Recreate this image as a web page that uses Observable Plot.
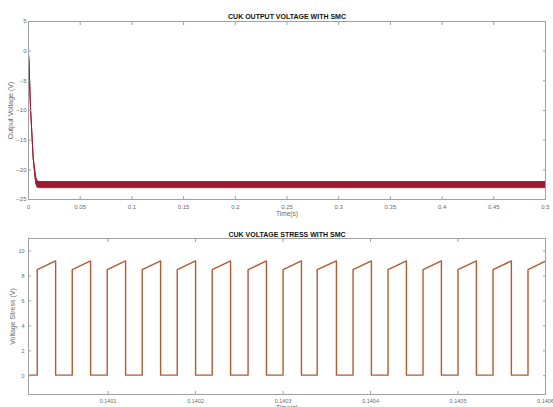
<!DOCTYPE html>
<html><head><meta charset="utf-8">
<script src="https://cdn.jsdelivr.net/npm/d3@7"></script>
<script src="https://cdn.jsdelivr.net/npm/@observablehq/plot@0.6"></script>
<style>
body{margin:0;background:#fff;}
#chart{width:553px;height:407px;overflow:hidden;background:#fff;}
#chart svg{display:block;}
</style></head><body><div id="chart"></div>
<script>
// ---- Top panel: CUK output voltage (envelope of the switching ripple) ----
const outTitle = "CUK OUTPUT VOLTAGE WITH SMC";
const outYLabel = "Output Voltage (V)";
const outXLabel = "Time(s)";
const outTime  = [0, 0.0004, 0.0019, 0.0045, 0.0062, 0.0072, 0.0085, 0.011, 0.05, 0.1, 0.2, 0.3, 0.4, 0.5];
const outUpper = [-0.5, -1.5, -9.4, -17.8, -20.2, -21.3, -21.9, -22.0, -22.0, -22.0, -22.0, -22.0, -22.0, -22.0];
const outLower = [-0.5, -1.5, -9.4, -18.0, -21.0, -22.4, -22.95, -23.0, -23.0, -23.0, -23.0, -23.0, -23.0, -23.0];
const outXTicks = [0, 0.05, 0.1, 0.15, 0.2, 0.25, 0.3, 0.35, 0.4, 0.45, 0.5];
const outYTicks = [5, 0, -5, -10, -15, -20, -25];

// ---- Bottom panel: CUK voltage stress ----
const vsTitle = "CUK VOLTAGE STRESS WITH SMC";
const vsYLabel = "Voltage Stress (V)";
const vsXLabel = "Time(s)";
const vsStart = 0.140009;
const vsEnd = 0.1406;
const vsRise = [0.140019, 0.140059, 0.140099, 0.140139, 0.140179, 0.140219, 0.140260, 0.140300,
                0.140339, 0.140380, 0.140420, 0.140460, 0.140500, 0.140540, 0.140580];
const vsFall = [0.140040, 0.140080, 0.140120, 0.140160, 0.140200, 0.140240, 0.140281,
                0.140321, 0.140361, 0.140401, 0.140441, 0.140481, 0.140521, 0.140561];
const vsLow = 0.05;
const vsHighStart = 8.5;
const vsHighEnd = 9.2;
const vsEndValue = 9.19;
const vsXTicks = [0.1401, 0.1402, 0.1403, 0.1404, 0.1405, 0.1406];
const vsYTicks = [0, 2, 4, 6, 8, 10];

// build tables
const outData = outTime.map((t, i) => ({t, upper: outUpper[i], lower: outLower[i]}));
const vsData = [{t: vsStart, v: vsLow}];
vsRise.forEach((r, i) => {
  vsData.push({t: r, v: vsLow}, {t: r, v: vsHighStart});
  if (i < vsFall.length) vsData.push({t: vsFall[i], v: vsHighEnd}, {t: vsFall[i], v: vsLow});
});
vsData.push({t: vsEnd, v: vsEndValue});

const FONT = "Liberation Sans, Arial, Helvetica, sans-serif";
const GRAY = "#6a6a6a";
const FRAME = "#a0a0a0";

function inwardAxes(xTicks, yTicks, xFmt, fs, yPad) {
  return [
    Plot.axisX({anchor: "bottom", ticks: xTicks, tickSize: -3, tickPadding: 8, tickFormat: xFmt, fontSize: fs, fill: GRAY, stroke: FRAME, label: null}),
    Plot.axisX({anchor: "top", ticks: xTicks, tickSize: -3, text: null, stroke: FRAME, label: null}),
    Plot.axisY({anchor: "left", ticks: yTicks, tickSize: -3, tickPadding: yPad, fontSize: fs, fill: GRAY, stroke: FRAME, label: null}),
    Plot.axisY({anchor: "right", ticks: yTicks, tickSize: -3, text: null, stroke: FRAME, label: null})
  ];
}

const topPanel = Plot.plot({
  width: 553, height: 222,
  marginTop: 21, marginBottom: 23, marginLeft: 28, marginRight: 8,
  style: {fontFamily: FONT, background: "#fff", overflow: "visible"},
  x: {domain: [0, 0.5]},
  y: {domain: [-25, 5]},
  marks: [
    Plot.areaY(outData, {x: "t", y1: "lower", y2: "upper", fill: "#a31631"}),
    Plot.lineY(outData, {x: "t", y: "upper", stroke: "#a31631", strokeWidth: 1}),
    Plot.lineY(outData, {x: "t", y: "lower", stroke: "#a31631", strokeWidth: 1}),
    Plot.frame({stroke: FRAME}),
    ...inwardAxes(outXTicks, outYTicks, d => d3.format("~g")(d), 6, 5),
    Plot.text([outTitle], {frameAnchor: "top", dy: -7, fontWeight: "bold", fontSize: 7, fill: "#111"}),
    Plot.text([outXLabel], {frameAnchor: "bottom", dy: 16, fontSize: 6.5, fill: GRAY}),
    Plot.text([outYLabel], {frameAnchor: "left", dx: -18, rotate: -90, textAnchor: "middle", fontSize: 7, fill: GRAY})
  ]
});

const bottomPanel = Plot.plot({
  width: 553, height: 185,
  marginTop: 16, marginBottom: 13, marginLeft: 28, marginRight: 8,
  style: {fontFamily: FONT, background: "#fff", overflow: "visible"},
  x: {domain: [vsStart, vsEnd]},
  y: {domain: [-1.5, 11]},
  marks: [
    Plot.line(vsData, {x: "t", y: "v", stroke: "#b45a33", strokeWidth: 1.4}),
    Plot.frame({stroke: FRAME}),
    ...inwardAxes(vsXTicks, vsYTicks, d => d3.format(".4f")(d), 5.5, 7),
    Plot.text([vsTitle], {frameAnchor: "top", dy: -6, fontWeight: "bold", fontSize: 7, fill: "#111"}),
    Plot.text([vsXLabel], {frameAnchor: "bottom", dy: 15, fontSize: 6.5, fill: GRAY}),
    Plot.text([vsYLabel], {frameAnchor: "left", dx: -16, rotate: -90, textAnchor: "middle", fontSize: 7, fill: GRAY})
  ]
});

document.getElementById("chart").append(topPanel, bottomPanel);
</script>
</body></html>
